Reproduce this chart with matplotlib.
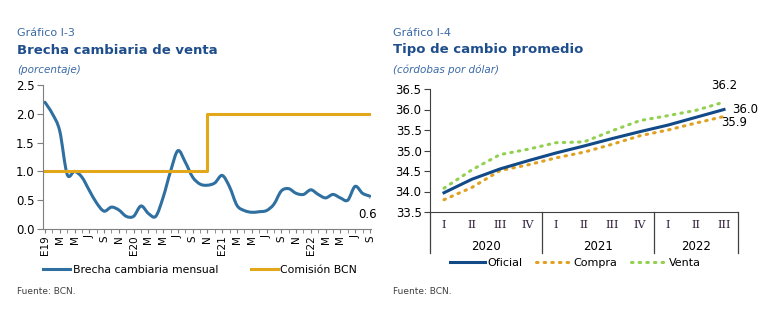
import numpy as np
import matplotlib
matplotlib.use("Agg")
import matplotlib.pyplot as plt
from matplotlib.lines import Line2D
from matplotlib.path import Path
from matplotlib.patches import PathPatch

# left panel: monthly FX gap, Jan 2019 - Sep 2022
brecha = [2.2, 2.0, 1.7, 0.95, 1.0, 0.9, 0.67, 0.45, 0.31, 0.38, 0.33, 0.22,
          0.22, 0.4, 0.27, 0.22, 0.55, 1.0, 1.36, 1.16, 0.9, 0.78, 0.76, 0.8,
          0.93, 0.73, 0.41, 0.32, 0.29, 0.3, 0.32, 0.43, 0.66, 0.7, 0.62, 0.6,
          0.68, 0.6, 0.54, 0.6, 0.54, 0.5, 0.74, 0.62, 0.57]
comision = [1.0] * 22 + [2.0] * 23
mes_labels = ["E19", "M", "M", "J", "S", "N",
              "E20", "M", "M", "J", "S", "N",
              "E21", "M", "M", "J", "S", "N",
              "E22", "M", "M", "J", "S"]

# right panel: quarterly averages 2020 I - 2022 III
trimestres = ["I", "II", "III", "IV", "I", "II", "III", "IV", "I", "II", "III"]
anios = ["2020", "2021", "2022"]
oficial = [33.97, 34.30, 34.55, 34.75, 34.94, 35.11, 35.29, 35.46, 35.62, 35.81, 36.0]
compra = [33.80, 34.10, 34.51, 34.65, 34.82, 34.96, 35.15, 35.36, 35.50, 35.67, 35.83]
venta = [34.08, 34.53, 34.90, 35.03, 35.19, 35.21, 35.48, 35.73, 35.85, 35.98, 36.18]

W, H = 779, 323
fig = plt.figure(figsize=(W / 100, H / 100), dpi=100)

title_c = "#1f4e8c"
sub_c = "#3a6aa6"
axis_c = "#7f7f7f"
blue = "#2f70a1"
gold = "#e2a819"
navy = "#124a87"
orange = "#e0a020"
green = "#92d050"


def px(x, y):
    return x / W, 1 - y / H


def smooth_path(xs, ys):
    # Excel-style smoothed line: bezier segments through the data points
    p = np.column_stack([xs, ys]).astype(float)
    verts = [p[0]]
    codes = [Path.MOVETO]
    n = len(p)
    for i in range(n - 1):
        p0 = p[max(i - 1, 0)]
        p3 = p[min(i + 2, n - 1)]
        c1 = p[i] + (p[i + 1] - p0) / 6
        c2 = p[i + 1] - (p3 - p[i]) / 6
        verts += [c1, c2, p[i + 1]]
        codes += [Path.CURVE4] * 3
    return Path(verts, codes)


def headers(x0, num, titulo, unidad):
    fig.text(*px(x0, 33), num, fontsize=8, color=sub_c, va="center")
    fig.text(*px(x0, 50), titulo, fontsize=9.5, color=title_c, fontweight="bold", va="center")
    fig.text(*px(x0, 70), unidad, fontsize=7.5, color=sub_c, style="italic", va="center")
    fig.text(*px(x0, 292), "Fuente: BCN.", fontsize=6.5, color="#404040", va="center")


headers(17, "Gráfico I-3", "Brecha cambiaria de venta", "(porcentaje)")
headers(393, "Gráfico I-4", "Tipo de cambio promedio", "(córdobas por dólar)")

# ---- left chart
ax1 = fig.add_axes([43 / W, 1 - 229 / H, 328 / W, 144 / H])
x = np.arange(len(brecha))
ax1.add_patch(PathPatch(smooth_path(x, brecha), fill=False, edgecolor=blue,
                        lw=2.2, capstyle="round", joinstyle="round"))
ax1.plot(x, comision, color=gold, lw=2.2, drawstyle="steps-post")
ax1.set_xlim(-0.27, 44.15)
ax1.set_ylim(0, 2.5)
ax1.set_yticks(np.arange(0, 2.51, 0.5))
ax1.set_yticklabels([f"{v:.1f}" for v in np.arange(0, 2.51, 0.5)])
ax1.set_xticks(np.arange(0, 45, 2))
ax1.set_xticklabels(mes_labels, rotation=90, fontsize=7.5)
ax1.set_xticks(np.arange(0, 45, 1), minor=True)
for s in ["top", "right"]:
    ax1.spines[s].set_visible(False)
for s in ["left", "bottom"]:
    ax1.spines[s].set_color(axis_c)
ax1.tick_params(axis="y", labelsize=8.5, length=4, color=axis_c, pad=2)
ax1.tick_params(axis="x", which="both", length=3, color=axis_c, pad=1.5)
ax1.annotate("0.6", xy=(x[-1], brecha[-1]), xytext=(x[-1] - 0.3, 0.25),
             fontsize=8.5, ha="center", va="center",
             arrowprops=dict(arrowstyle="-", color="#a0a0a0", lw=0.8, shrinkA=5, shrinkB=1))

h1 = [Line2D([], [], color=blue, lw=2.2), Line2D([], [], color=gold, lw=2.2)]
fig.legend(h1, ["Brecha cambiaria mensual", "Comisión BCN"], loc="center",
           bbox_to_anchor=(px(200, 270)), ncol=2, frameon=False, fontsize=7.8,
           handlelength=2.5, handletextpad=0.2, columnspacing=3.0)

# ---- right chart
ax2 = fig.add_axes([430 / W, 1 - 212 / H, 308 / W, 123 / H])
q = np.arange(len(oficial))
dots = (0, (0.5, 2.0))
ax2.plot(q, venta, color=green, lw=2.2, linestyle=dots, dash_capstyle="round")
ax2.plot(q, compra, color=orange, lw=2.2, linestyle=dots, dash_capstyle="round")
ax2.plot(q, oficial, color=navy, lw=2.2)
ax2.set_xlim(-0.5, 10.5)
ax2.set_ylim(33.5, 36.5)
ax2.set_yticks(np.arange(33.5, 36.51, 0.5))
ax2.set_yticklabels([f"{v:.1f}" for v in np.arange(33.5, 36.51, 0.5)])
ax2.set_xticks([])
for s in ["top", "right"]:
    ax2.spines[s].set_visible(False)
for s in ["left", "bottom"]:
    ax2.spines[s].set_color("#404040")
ax2.tick_params(axis="y", labelsize=8.5, length=4, color="#404040", pad=2)

tr = ax2.get_xaxis_transform()
y_rom = -(225 - 212) / 123
y_yr = -(246 - 212) / 123
y_end = -(253 - 212) / 123
for i, t in enumerate(trimestres):
    ax2.text(q[i], y_rom, t, transform=tr, ha="center", va="center",
             fontsize=8, family="DejaVu Serif", color="#30203a")
for xs in [-0.5, 3.5, 7.5, 10.5]:
    ax2.plot([xs, xs], [0, y_end], transform=tr, color="#404040", lw=0.9, clip_on=False)
for i, a in enumerate(anios):
    centro = [1.5, 5.5, 9.0][i]
    ax2.text(centro, y_yr, a, transform=tr, ha="center", va="center", fontsize=8.5)

ax2.text(q[-1], 36.42, f"{venta[-1]:.1f}", ha="center", va="bottom", fontsize=8.5)
ax2.text(q[-1] + 0.3, oficial[-1], f"{oficial[-1]:.1f}", ha="left", va="center", fontsize=8.5)
ax2.text(q[-1] + 0.35, 35.68, "35.9", ha="center", va="center", fontsize=8.5)

h2 = [Line2D([], [], color=navy, lw=2.2),
      Line2D([], [], color=orange, lw=2.2, linestyle=dots, dash_capstyle="round"),
      Line2D([], [], color=green, lw=2.2, linestyle=dots, dash_capstyle="round")]
fig.legend(h2, ["Oficial", "Compra", "Venta"], loc="center",
           bbox_to_anchor=(px(575, 263)), ncol=3, frameon=False, fontsize=8,
           handlelength=3.2, handletextpad=0.2, columnspacing=1.2)

fig.savefig("out.png", dpi=100)
